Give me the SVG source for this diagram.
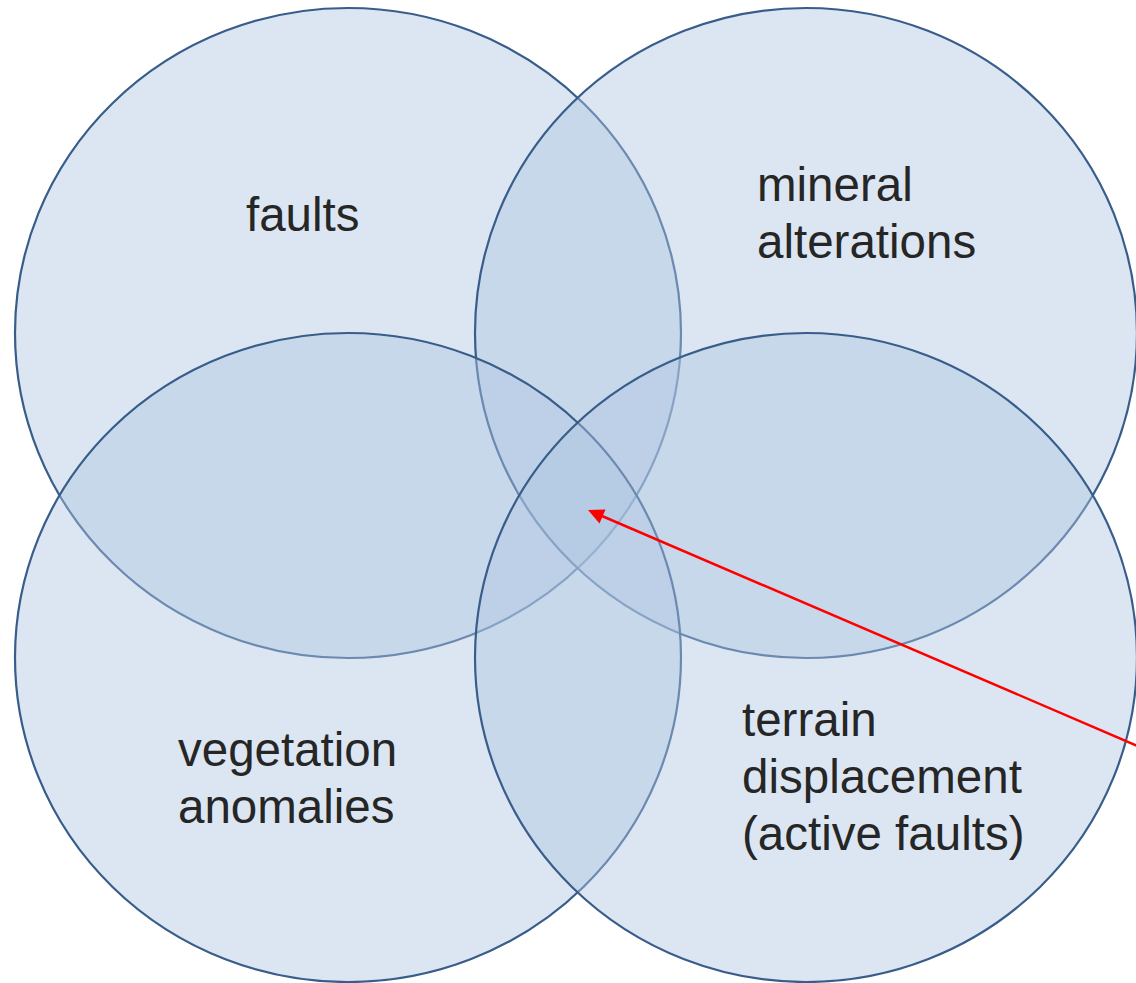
<svg xmlns="http://www.w3.org/2000/svg" width="1136" height="983" viewBox="0 0 1136 983">
<style>
.c{fill:rgb(174,197,225);fill-opacity:0.43;stroke:#385d8a;stroke-width:2.2}
.t{font-family:"Liberation Sans",Arial,sans-serif;font-size:47.5px;fill:#262626}
</style>
<rect width="1136" height="983" fill="#ffffff"/>
<g id="faults">
<ellipse class="c" cx="348" cy="333" rx="333" ry="325"/>
</g>
<g id="mineral">
<ellipse class="c" cx="806" cy="333" rx="331" ry="325"/>
</g>
<g id="vegetation">
<ellipse class="c" cx="348" cy="657.5" rx="333" ry="324.5"/>
</g>
<g id="terrain">
<ellipse class="c" cx="806" cy="657.5" rx="331" ry="324.5"/>
</g>
<g id="labels">
<text class="t" x="246" y="231">faults</text>
<text class="t" x="757" y="201">mineral</text>
<text class="t" x="757" y="258">alterations</text>
<text class="t" x="178" y="766">vegetation</text>
<text class="t" x="178" y="823">anomalies</text>
<text class="t" x="742" y="736">terrain</text>
<text class="t" x="742" y="793">displacement</text>
<text class="t" x="742" y="850">(active faults)</text>
</g>
<g id="connectors">
<line x1="1140" y1="747" x2="602" y2="516" stroke="#ff0000" stroke-width="2.5"/>
<path d="M588,510 L605.5,509.5 L599.5,523.5 Z" fill="#ff0000"/>
</g>
</svg>
